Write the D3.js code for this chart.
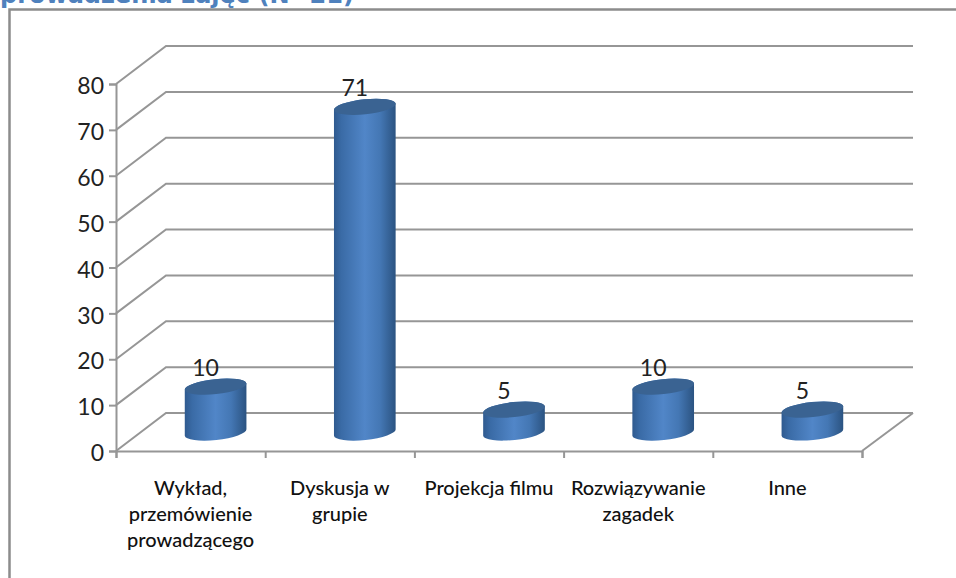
<!DOCTYPE html>
<html>
<head>
<meta charset="utf-8">
<script src="https://cdn.jsdelivr.net/npm/d3@7"></script>
<style>
html, body { margin: 0; padding: 0; background: #fff; overflow: hidden; }
text { font-family: Lato, "Noto Sans", sans-serif; }
</style>
</head>
<body>
<script>
const w = 956
const h = 578

const categories = [
    ['Wykład,', 'przemówienie', 'prowadzącego'],
    ['Dyskusja w', 'grupie'],
    ['Projekcja filmu'],
    ['Rozwiązywanie', 'zagadek'],
    ['Inne']
]
const values = [10, 71, 5, 10, 5]
const yTicks = [0, 10, 20, 30, 40, 50, 60, 70, 80]
const titleText = 'prowadzenia zajęć (N=21)'

// front plane of the 3d box, the back wall is shifted by depth
const depthX = 50
const depthY = -38
const gridColor = '#969696'

const xScale = d3.scaleBand()
    .domain(d3.range(categories.length))
    .range([116, 862])

const yScale = d3.scaleLinear()
    .domain([0, 80])
    .range([451, 84])

const svg = d3.select('body')
    .append('svg')
    .attr('width', w)
    .attr('height', h)

const defs = svg.append('defs')

const bodyGrad = defs.append('linearGradient')
    .attr('id', 'cylBody')
    .attr('x1', 0).attr('x2', 1).attr('y1', 0).attr('y2', 0)
bodyGrad.selectAll('stop')
    .data([
        [0, '#2f5a8f'], [0.12, '#3a6ba6'], [0.5, '#5186c8'], [0.75, '#4477b4'], [1, '#2b5381']
    ])
    .enter().append('stop')
    .attr('offset', d => d[0])
    .attr('stop-color', d => d[1])

svg.append('text')
    .attr('x', 0)
    .attr('y', 3)
    .attr('font-size', 24)
    .attr('font-weight', 700)
    .attr('fill', '#4f81bd')
    .style('font-family', '"DejaVu Sans", sans-serif')
    .text(titleText)

svg.append('rect')
    .attr('x', 9.5)
    .attr('y', 9.5)
    .attr('width', w + 20)
    .attr('height', h + 20)
    .attr('fill', '#fff')
    .attr('stroke', '#8c8c8c')
    .attr('stroke-width', 2.5)

// gridlines, floor and side wall
const grid = svg.append('g')
    .attr('fill', 'none')
    .attr('stroke', gridColor)
    .attr('stroke-width', 2)

grid.selectAll('path')
    .data(yTicks)
    .enter().append('path')
    .attr('d', d => {
        const y = yScale(d)
        return `M116,${y}L${116 + depthX},${y + depthY}L${862 + depthX + 1},${y + depthY}`
    })

grid.append('path')
    .attr('d', `M${862 + depthX + 1},${yScale(0) + depthY}L862,${yScale(0)}`)

// axes
const yAxis = svg.append('g')
    .attr('transform', 'translate(116,0)')
    .call(d3.axisLeft(yScale).tickValues(yTicks).tickSize(7).tickPadding(5))

const xAxis = svg.append('g')
    .attr('transform', `translate(0,${yScale(0)})`)
    .call(d3.axisBottom(d3.scaleLinear().domain([0, 5]).range([116, 862]))
        .ticks(5).tickSize(7).tickFormat(''))

yAxis.selectAll('.domain, line').attr('stroke', gridColor).attr('stroke-width', 2)
xAxis.selectAll('.domain, line').attr('stroke', gridColor).attr('stroke-width', 2)
yAxis.selectAll('text')
    .attr('font-size', 23)
    .attr('dy', '0.42em')
    .attr('fill', '#222')

// cylinders, base sits in the middle of the floor
const baseY = yScale(0) - 18.5
const unit = yScale(0) - yScale(1)
const rx = 31
const ry = 7.5
const tilt = -6

function cylinderBody (cx, top, base) {
    const dx = rx * Math.cos(tilt * Math.PI / 180)
    const dy = rx * Math.sin(tilt * Math.PI / 180)
    return `M${cx - dx},${top - dy}`
        + `L${cx - dx},${base - dy}`
        + `A${rx},${ry} ${tilt} 0 0 ${cx + dx},${base + dy}`
        + `L${cx + dx},${top + dy}`
        + `A${rx},${ry} ${tilt} 0 0 ${cx - dx},${top - dy}Z`
}

const bars = svg.selectAll('.bar')
    .data(values)
    .enter().append('g')
    .attr('class', 'bar')

bars.append('path')
    .attr('fill', 'url(#cylBody)')
    .attr('d', (d, i) => {
        const cx = xScale(i) + xScale.bandwidth() / 2 + 25
        return cylinderBody(cx, baseY - d * unit, baseY)
    })

bars.append('ellipse')
    .attr('rx', rx)
    .attr('ry', ry)
    .attr('fill', '#3a6392')
    .attr('transform', (d, i) => {
        const cx = xScale(i) + xScale.bandwidth() / 2 + 25
        return `translate(${cx},${baseY - d * unit}) rotate(${tilt})`
    })

bars.append('text')
    .attr('x', (d, i) => xScale(i) + xScale.bandwidth() / 2 + 15)
    .attr('y', d => baseY - d * unit - 11)
    .attr('text-anchor', 'middle')
    .attr('font-size', 23)
    .attr('fill', '#222')
    .text(d => d)

// category labels
const labels = svg.selectAll('.cat')
    .data(categories)
    .enter().append('text')
    .attr('class', 'cat')
    .attr('text-anchor', 'middle')
    .attr('font-size', 20)
    .attr('font-weight', 500)
    .attr('fill', '#111')

labels.selectAll('tspan')
    .data((d, i) => d.map(line => ({ line: line, i: i })))
    .enter().append('tspan')
    .attr('x', d => xScale(d.i) + xScale.bandwidth() / 2)
    .attr('y', (d, j) => 495 + j * 26)
    .text(d => d.line)
</script>
</body>
</html>
